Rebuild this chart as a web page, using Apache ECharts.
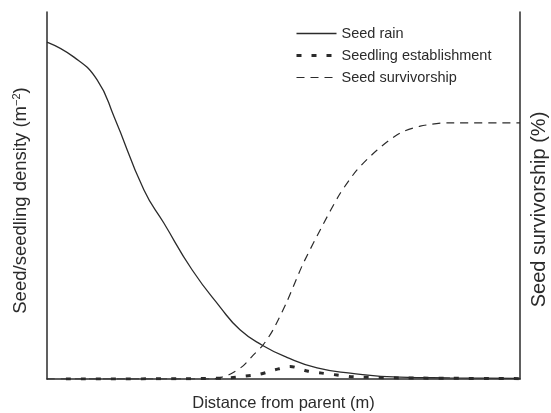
<!DOCTYPE html>
<html>
<head>
<meta charset="utf-8">
<script src="https://cdn.jsdelivr.net/npm/echarts@6/dist/echarts.min.js"></script>
<style>
  html, body { margin: 0; padding: 0; background: #fff; }
  #chart { width: 551px; height: 413px; }
</style>
</head>
<body>
<div id="chart"></div>
<script>
  // distance from parent (relative, 0-100) and curve heights (relative, 0-100)
  const seedRainX = [0, 5.7, 10.6, 14.2, 20.5, 24.7, 30.7, 36.6, 40.8, 45.5, 50.7, 57.1, 64.1, 74.6, 85.2, 100];
  const seedRainY = [91.8, 87.7, 81.5, 71.4, 51.5, 42.5, 29.7, 19.6, 13.4, 9.2, 5.9, 3.0, 1.6, 0.5, 0.3, 0.15];

  const seedlingX = [4, 32.3, 38.7, 41.9, 45.0, 48.2, 51.4, 55.0, 58.1, 61.3, 64.7, 74.6, 100];
  const seedlingY = [0, 0.1, 0.35, 0.8, 1.3, 2.5, 3.4, 2.2, 1.6, 1.1, 0.6, 0.3, 0.1];

  const survX = [0, 35.1, 38.7, 41.4, 43.6, 45.7, 47.8, 50.7, 54.1, 58.4, 61.9, 65.5, 69.8, 74.6, 78.9, 84.6, 100];
  const survY = [0, 0, 1.3, 3.5, 6.5, 9.3, 13.4, 21.0, 31.3, 42.2, 50.4, 56.9, 62.4, 67.0, 68.9, 69.8, 69.8];

  const seriesNames = ['Seed rain', 'Seedling establishment', 'Seed survivorship'];

  function pairs(xs, ys) {
    return xs.map(function (x, i) { return [x, ys[i]]; });
  }

  const FONT = '"Liberation Sans", Arial, sans-serif';
  const INK = '#2b2b2b';

  const rainLine = { color: INK, width: 1.3, type: 'solid' };
  const seedlingLine = { color: INK, width: 3, type: [5, 10] };
  const survLine = { color: INK, width: 1.2, type: [8, 6] };

  const chart = echarts.init(document.getElementById('chart'), null, { renderer: 'canvas' });
  const option = {
    animation: false,
    backgroundColor: '#fff',
    textStyle: { fontFamily: FONT, color: INK },
    grid: { left: 47, right: 31, top: 12, bottom: 34, outerBoundsMode: 'none', containLabel: false },
    legend: {
      orient: 'vertical',
      left: 290,
      top: 21,
      itemWidth: 40,
      itemHeight: 14,
      itemGap: 7,
      textStyle: { fontFamily: FONT, fontSize: 14.5, color: INK },
      data: [
        { name: seriesNames[0], itemStyle: { opacity: 0 }, lineStyle: rainLine },
        { name: seriesNames[1], itemStyle: { opacity: 0 }, lineStyle: seedlingLine },
        { name: seriesNames[2], itemStyle: { opacity: 0 }, lineStyle: survLine }
      ]
    },
    xAxis: {
      type: 'value',
      min: 0,
      max: 100,
      name: 'Distance from parent (m)',
      nameLocation: 'middle',
      nameGap: 16,
      nameTextStyle: { fontFamily: FONT, fontSize: 16.5, color: INK },
      axisLine: { show: true, lineStyle: { color: INK, width: 1.5 } },
      axisTick: { show: false },
      axisLabel: { show: false },
      splitLine: { show: false }
    },
    yAxis: [
      {
        type: 'value',
        position: 'left',
        min: 0,
        max: 100,
        name: 'Seed/seedling density (m{sup|\u22122})',
        nameLocation: 'middle',
        nameGap: 17,
        nameTextStyle: {
          fontFamily: FONT, fontSize: 18.5, color: INK, padding: [0, 10, 0, 0],
          rich: { sup: { fontFamily: FONT, fontSize: 11, color: INK, verticalAlign: 'top', padding: [0, 0, 7, 0] } }
        },
        axisLine: { show: true, lineStyle: { color: INK, width: 1.5 } },
        axisTick: { show: false },
        axisLabel: { show: false },
        splitLine: { show: false }
      },
      {
        type: 'value',
        position: 'right',
        min: 0,
        max: 100,
        name: 'Seed survivorship (%)',
        nameLocation: 'middle',
        nameGap: 9,
        nameRotate: 90,
        nameTextStyle: { fontFamily: FONT, fontSize: 20, color: INK, padding: [0, 28, 0, 0] },
        axisLine: { show: true, lineStyle: { color: INK, width: 1.5 } },
        axisTick: { show: false },
        axisLabel: { show: false },
        splitLine: { show: false }
      }
    ],
    series: [
      {
        name: seriesNames[0],
        type: 'line',
        yAxisIndex: 0,
        data: pairs(seedRainX, seedRainY),
        smooth: 0.5,
        symbol: 'none',
        lineStyle: rainLine,
        itemStyle: { color: INK },
        z: 3
      },
      {
        name: seriesNames[1],
        type: 'line',
        yAxisIndex: 0,
        data: pairs(seedlingX, seedlingY),
        smooth: 0.3,
        symbol: 'none',
        lineStyle: seedlingLine,
        itemStyle: { color: INK },
        z: 2
      },
      {
        name: seriesNames[2],
        type: 'line',
        yAxisIndex: 1,
        data: pairs(survX, survY),
        smooth: 0.25,
        symbol: 'none',
        lineStyle: survLine,
        itemStyle: { color: INK },
        z: 2
      }
    ]
  };
  chart.setOption(option);
</script>
</body>
</html>
